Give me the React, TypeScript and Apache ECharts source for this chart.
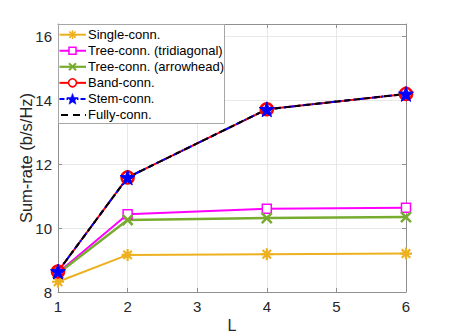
import React, { useEffect, useRef } from "react";
import * as echarts from "echarts";

const L = [1, 2, 4, 6];
const singleConn = [8.32, 9.16, 9.18, 9.2];
const treeTri = [8.6, 10.43, 10.6, 10.63];
const treeArrow = [8.58, 10.25, 10.31, 10.34];
const bandConn = [8.64, 11.58, 13.71, 14.19];
const stemConn = [8.64, 11.58, 13.71, 14.19];
const fullyConn = [8.64, 11.58, 13.71, 14.19];
const names = [
  "Single-conn.",
  "Tree-conn. (tridiagonal)",
  "Tree-conn. (arrowhead)",
  "Band-conn.",
  "Stem-conn.",
  "Fully-conn.",
];
const colors = ["#EDB120", "#FF00FF", "#77AC30", "#FF0000", "#0000FF", "#000000"];

const FONT = "Liberation Sans, Arial, sans-serif";
const ASTER = "path://M0,-10L0,10M-10,0L10,0M-7,-7L7,7M-7,7L7,-7";
const XMARK = "path://M-8,-8L8,8M-8,8L8,-8";
const STAR =
  "path://M0,-10L2.35,-3.24L9.51,-3.09L3.8,1.24L5.88,8.09L0,4L-5.88,8.09L-3.8,1.24L-9.51,-3.09L-2.35,-3.24Z";

function pts(v: number[]) {
  return L.map((x, i) => [x, v[i]]);
}

function starPoints(cx: number, cy: number, R: number, r: number) {
  const p: number[][] = [];
  for (let k = 0; k < 10; k++) {
    const rad = k % 2 === 0 ? R : r;
    const a = -Math.PI / 2 + (k * Math.PI) / 5;
    p.push([cx + rad * Math.cos(a), cy + rad * Math.sin(a)]);
  }
  return p;
}

function legendGraphics() {
  const els: any[] = [];
  const bx = 58, by = 24, bw = 166, bh = 99;
  els.push({
    type: "rect",
    shape: { x: bx + 0.5, y: by + 0.5, width: bw, height: bh },
    style: { fill: "#fff", stroke: "#a6a6a6", lineWidth: 1 },
    z: 100,
  });
  const x0 = 59.5, x1 = 86, mx = 72.5;
  for (let i = 0; i < names.length; i++) {
    const cy = 34.7 + 16.05 * i;
    const c = colors[i];
    let dash: any = null;
    if (i === 4) dash = [5, 2, 1.5, 2];
    if (i === 5) dash = [7, 5];
    els.push({
      type: "line",
      shape: { x1: i === 5 ? x0 + 1.5 : x0, y1: cy, x2: x1, y2: cy },
      style: { stroke: c, lineWidth: i === 2 ? 2.2 : 2, lineDash: dash },
      z: 101,
    });
    if (i === 0) {
      const s = 4.5;
      const d = s * 0.7;
      [[0, -s, 0, s], [-s, 0, s, 0], [-d, -d, d, d], [-d, d, d, -d]].forEach((q) =>
        els.push({
          type: "line",
          shape: { x1: mx + q[0], y1: cy + q[1], x2: mx + q[2], y2: cy + q[3] },
          style: { stroke: c, lineWidth: 1.6 },
          z: 102,
        })
      );
    } else if (i === 1) {
      els.push({
        type: "rect",
        shape: { x: mx - 3.5, y: cy - 3.5, width: 7, height: 7 },
        style: { fill: "#fff", stroke: c, lineWidth: 1.5 },
        z: 102,
      });
    } else if (i === 2) {
      const s = 3.5;
      [[-s, -s, s, s], [-s, s, s, -s]].forEach((q) =>
        els.push({
          type: "line",
          shape: { x1: mx + q[0], y1: cy + q[1], x2: mx + q[2], y2: cy + q[3] },
          style: { stroke: c, lineWidth: 2 },
          z: 102,
        })
      );
    } else if (i === 3) {
      els.push({
        type: "circle",
        shape: { cx: mx, cy, r: 4 },
        style: { fill: "#fff", stroke: c, lineWidth: 1.6 },
        z: 102,
      });
    } else if (i === 4) {
      els.push({
        type: "polygon",
        shape: { points: starPoints(mx, cy + 0.5, 6, 2.5) },
        style: { fill: c, stroke: c, lineWidth: 0.5 },
        z: 102,
      });
    }
    els.push({
      type: "text",
      x: 88,
      y: cy,
      style: {
        text: names[i],
        fill: "#000",
        font: `13px ${FONT}`,
        textVerticalAlign: "middle",
        verticalAlign: "middle",
      },
      z: 103,
    });
  }
  return els;
}

export default function App() {
  const ref = useRef<HTMLDivElement>(null);
  useEffect(() => {
    const chart = echarts.init(ref.current!, null, { renderer: "svg" });
    const axisColor = "#8f8f8f";
    const gridColor = "#e8e8e8";
    const labelColor = "#262626";
    chart.setOption({
      animation: false,
      backgroundColor: "#fff",
      textStyle: { fontFamily: FONT },
      grid: { left: 58, right: 43, top: 24, bottom: 44, containLabel: false, outerBoundsMode: "none" },
      graphic: legendGraphics(),
      xAxis: [
        {
          type: "value",
          min: 1,
          max: 6,
          interval: 1,
          name: "L",
          nameLocation: "middle",
          nameGap: 25,
          nameMoveOverlap: false,
          nameTextStyle: { fontFamily: FONT, fontSize: 16, color: labelColor },
          axisLine: { show: true, onZero: false, lineStyle: { color: axisColor } },
          axisTick: { show: true, inside: true, length: 4, lineStyle: { color: axisColor } },
          axisLabel: { fontFamily: FONT, fontSize: 15, color: labelColor, margin: 7 },
          splitLine: { show: true, lineStyle: { color: gridColor } },
        },
        {
          type: "value",
          position: "top",
          min: 1,
          max: 6,
          interval: 1,
          axisLine: { show: true, onZero: false, lineStyle: { color: axisColor } },
          axisTick: { show: true, inside: true, length: 4, lineStyle: { color: axisColor } },
          axisLabel: { show: false },
          splitLine: { show: false },
        },
      ],
      yAxis: [
        {
          type: "value",
          min: 8,
          max: 16.375,
          interval: 2,
          name: "Sum-rate (b/s/Hz)",
          nameLocation: "middle",
          nameGap: 24,
          nameMoveOverlap: false,
          nameTextStyle: { fontFamily: FONT, fontSize: 16.5, color: labelColor },
          axisLine: { show: true, onZero: false, lineStyle: { color: axisColor } },
          axisTick: { show: true, inside: true, length: 4, lineStyle: { color: axisColor } },
          axisLabel: {
            fontFamily: FONT,
            fontSize: 15,
            color: labelColor,
            margin: 6,
            formatter: (v: number) => (v % 2 === 0 ? String(v) : ""),
          },
          splitLine: { show: true, lineStyle: { color: gridColor } },
        },
        {
          type: "value",
          position: "right",
          min: 8,
          max: 16.375,
          interval: 2,
          axisLine: { show: true, onZero: false, lineStyle: { color: axisColor } },
          axisTick: { show: true, inside: true, length: 4, lineStyle: { color: axisColor } },
          axisLabel: { show: false },
          splitLine: { show: false },
        },
      ],
      series: [
        {
          name: names[0],
          type: "line",
          data: pts(singleConn),
          symbol: ASTER,
          symbolSize: 12,
          lineStyle: { color: colors[0], width: 2 },
          itemStyle: { color: colors[0], borderColor: colors[0], borderWidth: 2.2 },
        },
        {
          name: names[1],
          type: "line",
          data: pts(treeTri),
          symbol: "rect",
          symbolSize: 9,
          lineStyle: { color: colors[1], width: 2 },
          itemStyle: { color: "#fff", borderColor: colors[1], borderWidth: 1.5 },
        },
        {
          name: names[2],
          type: "line",
          data: pts(treeArrow),
          symbol: XMARK,
          symbolSize: 10,
          lineStyle: { color: colors[2], width: 2.5 },
          itemStyle: { color: colors[2], borderColor: colors[2], borderWidth: 2.5 },
        },
        {
          name: names[3],
          type: "line",
          data: pts(bandConn),
          symbol: "circle",
          symbolSize: 12,
          lineStyle: { color: colors[3], width: 2 },
          itemStyle: { color: "rgba(0,0,0,0)", borderColor: colors[3], borderWidth: 2.5 },
        },
        {
          name: names[4],
          type: "line",
          data: pts(stemConn),
          symbol: STAR,
          symbolSize: 15,
          lineStyle: { color: colors[4], width: 2, type: [6, 3, 2, 3] },
          itemStyle: { color: colors[4], borderColor: colors[4], borderWidth: 1 },
        },
        {
          name: names[5],
          type: "line",
          data: pts(fullyConn),
          symbol: "none",
          lineStyle: { color: colors[5], width: 2, type: [6, 4] },
          itemStyle: { color: colors[5] },
        },
      ],
    });
    return () => chart.dispose();
  }, []);
  return <div ref={ref} style={{ width: 449, height: 336, position: "absolute", left: 0, top: 0 }} />;
}
